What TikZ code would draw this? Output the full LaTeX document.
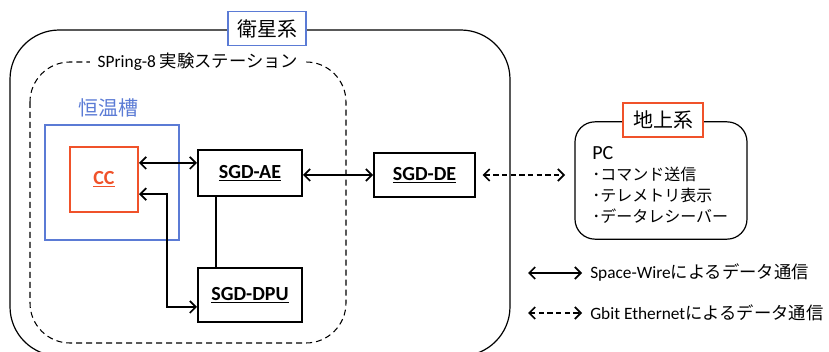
\documentclass[tikz,border=0pt]{standalone}
\usepackage{fontspec}
\setmainfont{Carlito}
\newfontfamily\jp{Noto Sans CJK JP}
\usetikzlibrary{positioning,arrows.meta}

\definecolor{ovenblue}{RGB}{91,123,213}
\definecolor{ccred}{RGB}{240,82,42}

\begin{document}
\begin{tikzpicture}[x=0.75pt,y=-0.75pt,
    >={Straight Barb[length=4.5pt,width=9pt]},
    unit/.style={draw,line width=1.5pt,minimum width=78pt,font=\fontsize{15}{18}\selectfont\bfseries},
    tag/.style={draw,fill=white,line width=0.9pt,inner sep=0pt,font=\fontsize{15}{18}\selectfont\jp},
    link/.style={<->,line width=1.3pt},
    eth/.style={<->,line width=1.3pt,dash pattern=on 4pt off 2.5pt}]
  \clip (0,0) rectangle (829,352);

  % satellite side and experiment station
  \draw[line width=0.9pt,rounded corners=37pt] (10,30) rectangle (510,356);
  \draw[line width=0.8pt,dash pattern=on 4.5pt off 3pt,rounded corners=30pt] (30,62) rectangle (346,343);
  \node[tag,draw=ovenblue,minimum width=58.5pt,minimum height=25pt] (sat) at (267,28.5) {衛星系};
  \node[fill=white,inner xsep=6pt,inner ysep=2pt,font=\fontsize{13}{16}\selectfont] (station) at (198,62) {SPring-8 {\jp 実験ステーション}};

  % thermostatic chamber
  \node[draw=ovenblue,line width=1.2pt,minimum width=100.5pt,minimum height=86pt] (oven) at (112,182.5) {};
  \node[text=ovenblue,font=\fontsize{15}{18}\selectfont\jp] (ovenlbl) at (108,108) {恒温槽};
  \node[draw=ccred,line width=1.5pt,minimum width=51pt,minimum height=49pt,text=ccred,font=\fontsize{15}{18}\selectfont\bfseries] (cc) at (104,179.5) {\underline{CC}};

  % SGD units
  \node[unit,minimum height=34.5pt] (ae) at (250,173) {\underline{SGD-AE}};
  \node[unit,minimum height=40.5pt] (dpu) at (250,295) {\underline{SGD-DPU}};
  \node[unit,minimum width=75.5pt,minimum height=33pt] (de) at (424.5,175) {\underline{SGD-DE}};

  % ground side
  \node[draw,line width=0.9pt,rounded corners=15pt,minimum width=129pt,minimum height=88pt] (pc) at (661,180.5) {};
  \node[tag,draw=ccred,minimum width=60pt,minimum height=25.5pt] (gnd) at (663,120) {地上系};
  \node[anchor=north west,align=left,inner sep=0pt,font=\fontsize{12}{15.75}\selectfont] (pctext) at (592,146)
    {{\fontsize{15}{15.75}\selectfont PC}\\{\jp ･コマンド送信}\\{\jp ･テレメトリ表示}\\{\jp ･データレシーバー}};

  % connections
  \draw[link] ([yshift=12.4pt]cc.east) -- ([yshift=12.4pt]cc.east -| ae.west);
  \draw[link] ([yshift=-11pt]cc.east) -| ([xshift=-22.5pt,yshift=-9pt]dpu.west) -- ([yshift=-9pt]dpu.west);
  \draw[line width=1.3pt] ([xshift=-25.5pt]ae.south) -- ([xshift=-25.5pt]ae.south |- dpu.north);
  \draw[link] (de.west -| ae.east) -- (de.west);
  \draw[eth,shorten <=5pt,shorten >=7pt] (de.east) -- (de.east -| pc.west);

  % legend
  \coordinate (sw1) at (528,273);
  \coordinate (sw2) at (582,273);
  \coordinate (ge1) at (528,313);
  \coordinate (ge2) at (582,313);
  \draw[link] (sw1) -- (sw2);
  \draw[eth] (ge1) -- (ge2);
  \node[anchor=west,inner sep=0pt,font=\fontsize{13}{16}\selectfont] (swtext) at (590,273) {Space-Wire{\jp によるデータ通信}};
  \node[anchor=west,inner sep=0pt,font=\fontsize{13}{16}\selectfont] (getext) at (590,313) {Gbit Ethernet{\jp によるデータ通信}};
\end{tikzpicture}
\end{document}
